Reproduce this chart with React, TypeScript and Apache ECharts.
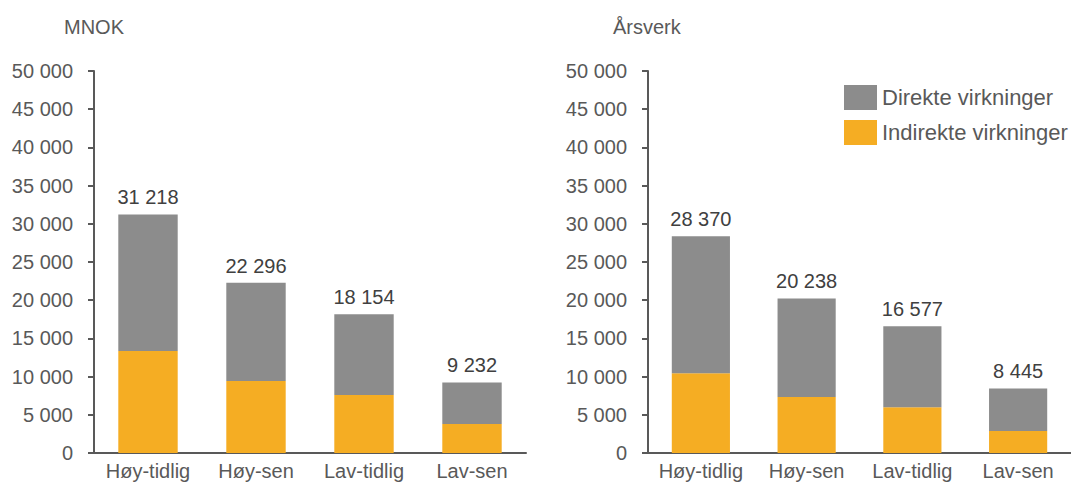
import React, { useEffect, useRef } from "react";
import * as echarts from "echarts";

const categories = ["Høy-tidlig", "Høy-sen", "Lav-tidlig", "Lav-sen"];
const yTicks = [0, 5000, 10000, 15000, 20000, 25000, 30000, 35000, 40000, 45000, 50000];

const mnokIndirect = [13350, 9420, 7590, 3800];
const mnokDirect = [17868, 12876, 10564, 5432];
const mnokTotals = [31218, 22296, 18154, 9232];

const aarsverkIndirect = [10430, 7330, 5980, 2880];
const aarsverkDirect = [17940, 12908, 10597, 5565];
const aarsverkTotals = [28370, 20238, 16577, 8445];

const titles = ["MNOK", "Årsverk"];
const seriesNames = ["Direkte virkninger", "Indirekte virkninger"];

const GRAY = "#8c8c8c";
const ORANGE = "#f5ad23";
const TEXT = "#595959";
const FONT = "Liberation Sans";

const fmt = (v: number) => String(v).replace(/\B(?=(\d{3})+(?!\d))/g, " ");

export default function App() {
  const ref = useRef<HTMLDivElement>(null);
  useEffect(() => {
    if (!ref.current) return;
    const chart = echarts.init(ref.current, null, { renderer: "svg" });
    const grids = [
      { left: 94, top: 71, width: 432, height: 382 },
      { left: 648, top: 71, width: 428, height: 382 },
    ];
    const mkX = (i: number) => ({
      type: "category" as const,
      gridIndex: i,
      data: categories,
      axisLine: { lineStyle: { color: TEXT, width: 2 } },
      axisTick: { show: false },
      axisLabel: { color: TEXT, fontSize: 20, fontFamily: FONT, margin: 8, interval: 0 },
    });
    const mkY = (i: number) => ({
      type: "value" as const,
      gridIndex: i,
      min: yTicks[0],
      max: yTicks[yTicks.length - 1],
      interval: yTicks[1] - yTicks[0],
      axisLine: { show: true, lineStyle: { color: TEXT, width: 2 } },
      axisTick: { show: true, length: 6, lineStyle: { color: TEXT, width: 2 } },
      splitLine: { show: false },
      axisLabel: { color: TEXT, fontSize: 20, fontFamily: FONT, margin: 21, formatter: (v: number) => fmt(v) },
    });
    const sets = [
      { ind: mnokIndirect, dir: mnokDirect, tot: mnokTotals },
      { ind: aarsverkIndirect, dir: aarsverkDirect, tot: aarsverkTotals },
    ];
    const series: any[] = [];
    sets.forEach((s, i) => {
      series.push({
        name: seriesNames[1],
        type: "bar",
        stack: "s" + i,
        xAxisIndex: i,
        yAxisIndex: i,
        barWidth: "55%",
        data: s.ind,
        itemStyle: { color: ORANGE },
      });
      series.push({
        name: seriesNames[0],
        type: "bar",
        stack: "s" + i,
        xAxisIndex: i,
        yAxisIndex: i,
        barWidth: "55%",
        data: s.dir,
        itemStyle: { color: GRAY },
        label: {
          show: true,
          position: "top",
          distance: 7,
          color: "#404040",
          fontSize: 20,
          fontFamily: FONT,
          formatter: (p: any) => fmt(s.tot[p.dataIndex]),
        },
      });
    });
    chart.setOption({
      animation: false,
      grid: grids,
      xAxis: [mkX(0), mkX(1)],
      yAxis: [mkY(0), mkY(1)],
      series,
      legend: {
        orient: "vertical",
        left: 839,
        top: 80,
        icon: "rect",
        itemWidth: 33,
        itemHeight: 25,
        itemGap: 10,
        data: seriesNames,
        textStyle: { color: TEXT, fontSize: 22, fontFamily: FONT },
      },
      graphic: [
        { type: "text", left: 64, top: 17, style: { text: titles[0], fill: TEXT, fontSize: 20, fontFamily: FONT } },
        { type: "text", left: 613, top: 17, style: { text: titles[1], fill: TEXT, fontSize: 20, fontFamily: FONT } },
      ],
    });
    return () => chart.dispose();
  }, []);
  return <div ref={ref} style={{ width: 1071, height: 484, position: "absolute", left: 0, top: 0 }} />;
}
